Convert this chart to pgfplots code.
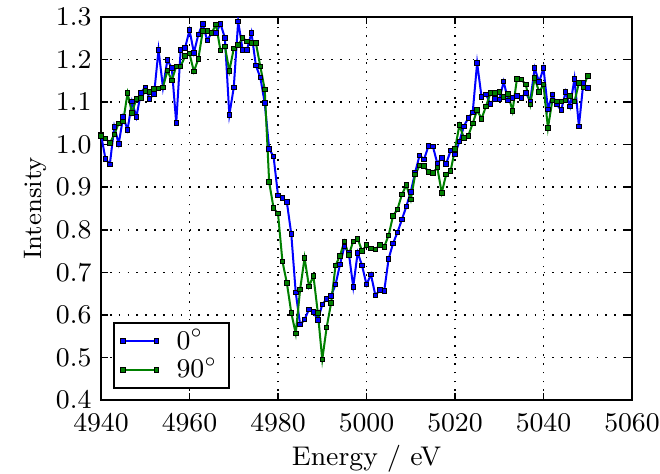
\documentclass[border=0pt]{standalone}
\usepackage{pgfplots}
\usepackage{pgfplotstable}
\pgfplotsset{compat=1.18}

\definecolor{mplblue}{RGB}{0,0,255}
\definecolor{mplgreen}{RGB}{0,128,0}

% Intensity at 0 degrees
\pgfplotstableread{
E I
4940 1.024
4941 0.967
4942 0.954
4943 1.042
4944 1.002
4945 1.065
4946 1.035
4947 1.101
4948 1.065
4949 1.122
4950 1.135
4951 1.108
4952 1.119
4953 1.223
4954 1.134
4955 1.199
4956 1.180
4957 1.051
4958 1.222
4959 1.227
4960 1.269
4961 1.216
4962 1.259
4963 1.284
4964 1.245
4965 1.263
4966 1.263
4967 1.284
4968 1.251
4969 1.070
4970 1.134
4971 1.290
4972 1.223
4973 1.223
4974 1.263
4975 1.186
4976 1.158
4977 1.098
4978 0.990
4979 0.972
4980 0.881
4981 0.875
4982 0.865
4983 0.790
4984 0.653
4985 0.577
4986 0.589
4987 0.613
4988 0.607
4989 0.588
4990 0.624
4991 0.638
4992 0.645
4993 0.671
4994 0.718
4995 0.761
4996 0.745
4997 0.666
4998 0.746
4999 0.716
5000 0.671
5001 0.695
5002 0.646
5003 0.658
5004 0.656
5005 0.732
5006 0.768
5007 0.794
5008 0.824
5009 0.855
5010 0.889
5011 0.935
5012 0.975
5013 0.965
5014 0.997
5015 0.996
5016 0.956
5017 0.969
5018 0.955
5019 0.986
5020 0.977
5021 1.008
5022 1.043
5023 1.063
5024 1.076
5025 1.192
5026 1.112
5027 1.118
5028 1.096
5029 1.108
5030 1.106
5031 1.148
5032 1.104
5033 1.110
5034 1.114
5035 1.110
5036 1.122
5037 1.102
5038 1.180
5039 1.147
5040 1.180
5041 1.083
5042 1.118
5043 1.094
5044 1.081
5045 1.124
5046 1.090
5047 1.155
5048 1.043
5049 1.145
5050 1.133
}\tablezero

% Intensity at 90 degrees
\pgfplotstableread{
E I
4940 1.020
4941 1.015
4942 1.004
4943 1.024
4944 1.050
4945 1.054
4946 1.121
4947 1.075
4948 1.108
4949 1.110
4950 1.126
4951 1.124
4952 1.131
4953 1.132
4954 1.135
4955 1.174
4956 1.151
4957 1.184
4958 1.184
4959 1.208
4960 1.214
4961 1.172
4962 1.202
4963 1.267
4964 1.267
4965 1.263
4966 1.282
4967 1.221
4968 1.231
4969 1.173
4970 1.226
4971 1.234
4972 1.251
4973 1.243
4974 1.239
4975 1.239
4976 1.184
4977 1.130
4978 0.912
4979 0.851
4980 0.838
4981 0.726
4982 0.675
4983 0.605
4984 0.556
4985 0.660
4986 0.734
4987 0.667
4988 0.692
4989 0.605
4990 0.495
4991 0.571
4992 0.628
4993 0.716
4994 0.739
4995 0.772
4996 0.741
4997 0.773
4998 0.779
4999 0.750
5000 0.764
5001 0.756
5002 0.754
5003 0.764
5004 0.760
5005 0.787
5006 0.833
5007 0.848
5008 0.883
5009 0.905
5010 0.871
5011 0.930
5012 0.951
5013 0.950
5014 0.936
5015 0.934
5016 0.946
5017 0.887
5018 0.930
5019 0.938
5020 0.990
5021 1.046
5022 1.016
5023 1.021
5024 1.050
5025 1.081
5026 1.061
5027 1.090
5028 1.121
5029 1.121
5030 1.124
5031 1.112
5032 1.119
5033 1.079
5034 1.155
5035 1.153
5036 1.141
5037 1.094
5038 1.157
5039 1.124
5040 1.141
5041 1.039
5042 1.104
5043 1.102
5044 1.102
5045 1.104
5046 1.114
5047 1.101
5048 1.145
5049 1.135
5050 1.162
}\tableninety

\begin{document}
\fontsize{9}{10.8}\selectfont
\begin{tikzpicture}
\useasboundingbox (-33.67pt,-24.67pt) rectangle (186.33pt,133.33pt);
\begin{axis}[
  scale only axis,
  width=177pt, height=127.67pt,
  xmin=4940, xmax=5060,
  ymin=0.4, ymax=1.3,
  xtick={4940,4960,4980,5000,5020,5040,5060},
  ytick={0.4,0.5,0.6,0.7,0.8,0.9,1.0,1.1,1.2,1.3},
  x tick label style={/pgf/number format/1000 sep={}, yshift=-1.5pt},
  y tick label style={/pgf/number format/.cd, fixed, fixed zerofill, precision=1},
  tick align=inside,
  major tick length=2.3pt,
  tick style={black, line width=0.5pt},
  axis line style={line width=0.6pt},
  grid=major,
  major grid style={black, line width=0.55pt, dash pattern=on 0.55pt off 2.4pt},
  xlabel={Energy / eV},
  ylabel={Intensity},
  xlabel style={at={(axis description cs:0.5,-0.154)}, anchor=center},
  ylabel style={at={(axis description cs:-0.124,0.5)}, anchor=center,
    font=\fontsize{8.4}{10}\selectfont},
  legend image code/.code={\draw[#1] plot coordinates {(0pt,0pt) (11.2pt,0pt)};},
  legend cell align=left,
  legend style={at={(0.0226,0.0287)}, anchor=south west, draw=black,
    line width=0.6pt, fill=white, inner xsep=2.2pt, inner ysep=0.3pt,
    row sep=-2.1pt, nodes={inner sep=1.8pt},
    /tikz/every odd column/.append style={column sep=4.2pt}},
]
\addplot[mplblue, line width=0.67pt, mark=square*, mark size=0.75pt,
  mark options={draw=black, line width=0.3pt, fill=mplblue}]
  table[x=E, y=I] {\tablezero};
\addlegendentry{$0^\circ$}
\addplot[mplgreen, line width=0.67pt, mark=square*, mark size=0.75pt,
  mark options={draw=black, line width=0.3pt, fill=mplgreen}]
  table[x=E, y=I] {\tableninety};
\addlegendentry{$90^\circ$}
\end{axis}
\end{tikzpicture}
\end{document}
